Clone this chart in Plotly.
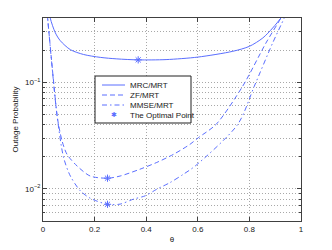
import plotly.graph_objects as go
import numpy as np

# ---------------- data ----------------
theta_mrc = [0.020, 0.028, 0.048, 0.067, 0.106, 0.157, 0.222, 0.286, 0.369, 0.477, 0.600, 0.736, 0.800, 0.852, 0.890, 0.922, 0.930]
p_mrc = [0.55, 0.40, 0.290, 0.245, 0.202, 0.182, 0.171, 0.1655, 0.162, 0.163, 0.172, 0.195, 0.217, 0.260, 0.322, 0.400, 0.43]

theta_zf = [0.012, 0.018, 0.054, 0.060, 0.074, 0.093, 0.132, 0.183, 0.250, 0.299, 0.376, 0.441, 0.506, 0.570, 0.602, 0.671, 0.774, 0.864, 0.922, 0.930]
p_zf = [0.60, 0.40, 0.0499, 0.0403, 0.0281, 0.0211, 0.0164, 0.0132, 0.0126, 0.0132, 0.0153, 0.0177, 0.0211, 0.0262, 0.0302, 0.0403, 0.0918, 0.233, 0.400, 0.44]

theta_mmse = [0.012, 0.018, 0.054, 0.080, 0.106, 0.145, 0.183, 0.250, 0.299, 0.351, 0.396, 0.441, 0.493, 0.544, 0.590, 0.755, 0.819, 0.890, 0.935, 0.942]
p_mmse = [0.60, 0.40, 0.0499, 0.0196, 0.0132, 0.00957, 0.00818, 0.00717, 0.00720, 0.00802, 0.00861, 0.00993, 0.01148, 0.01371, 0.0164, 0.0403, 0.0918, 0.233, 0.400, 0.44]

opt_theta = [0.369, 0.250, 0.250]
opt_p = [0.162, 0.0126, 0.00717]

series_names = ["MRC/MRT", "ZF/MRT", "MMSE/MRT", "The Optimal Point"]

x_ticks = [0, 0.2, 0.4, 0.6, 0.8, 1]
x_ticklabels = ["0", "0.2", "0.4", "0.6", "0.8", "1"]
y_major = [0.01, 0.1]
y_major_labels = ["10<sup>−2</sup>", "10<sup>−1</sup>"]
y_minor = [0.005, 0.006, 0.007, 0.008, 0.009, 0.02, 0.03, 0.04, 0.05, 0.06, 0.07, 0.08, 0.09, 0.2, 0.3, 0.4]

# ---------------- styling ----------------
W, H = 332, 250
ML, MR, MT, MB = 43, 31, 18, 29
blue = "rgb(90,110,255)"
ink = "#202020"
font = "Liberation Sans, Arial, Helvetica, sans-serif"
dash_zf = "5px,3px"
dash_mmse = "5px,3px,1.5px,3px"

fig = go.Figure()
fig.add_trace(go.Scatter(x=theta_mrc, y=p_mrc, mode="lines", name=series_names[0],
                         line=dict(color=blue, width=1, shape="spline", smoothing=0.8)))
fig.add_trace(go.Scatter(x=theta_zf, y=p_zf, mode="lines", name=series_names[1],
                         line=dict(color=blue, width=1, dash=dash_zf, shape="spline", smoothing=0.8)))
fig.add_trace(go.Scatter(x=theta_mmse, y=p_mmse, mode="lines", name=series_names[2],
                         line=dict(color=blue, width=1, dash=dash_mmse, shape="spline", smoothing=0.8)))
fig.add_trace(go.Scatter(x=opt_theta, y=opt_p, mode="markers", name=series_names[3],
                         marker=dict(symbol="asterisk-open", size=6, color=blue,
                                     line=dict(color=blue, width=1))))

axis_common = dict(showline=True, linecolor="#404040", linewidth=1, mirror="ticks",
                   ticks="inside", ticklen=4, tickcolor="#404040", automargin=False,
                   showgrid=True, gridcolor="#a8a8a8", griddash="1px,2px", gridwidth=1,
                   zeroline=False, tickfont=dict(size=8, color=ink, family=font))

fig.update_xaxes(range=[0, 1], tickvals=x_ticks, ticktext=x_ticklabels,
                 title=dict(text="θ", font=dict(size=8, family=font, color=ink), standoff=3),
                 **axis_common)
fig.update_yaxes(type="log", range=[np.log10(0.005), np.log10(0.4)],
                 tickvals=y_major, ticktext=y_major_labels,
                 minor=dict(tickvals=y_minor, ticks="inside", ticklen=2, tickcolor="#404040",
                            showgrid=True, gridcolor="#a8a8a8", griddash="1px,2px", gridwidth=1),
                 title=dict(text="Outage Probability", font=dict(size=8, family=font, color=ink), standoff=5),
                 **axis_common)

# ---------------- manual legend (compact, MATLAB-like) ----------------
pw, ph = W - ML - MR, H - MT - MB
px = lambda x: (x - ML) / pw
py = lambda y: (H - MB - y) / ph

shapes = [dict(type="rect", xref="paper", yref="paper",
               x0=px(95), x1=px(191), y0=py(123), y1=py(76),
               fillcolor="white", line=dict(color=ink, width=1), layer="above")]
annotations = []
rows = [85, 95, 105, 115]
dashes = ["solid", dash_zf, dash_mmse]
for i, name in enumerate(series_names):
    yy = py(rows[i])
    if i < 3:
        shapes.append(dict(type="line", xref="paper", yref="paper",
                           x0=px(102), x1=px(125), y0=yy, y1=yy,
                           line=dict(color=blue, width=1, dash=dashes[i]), layer="above"))
    else:
        annotations.append(dict(xref="paper", yref="paper", x=px(113.5), y=yy,
                                text="✱", showarrow=False, xanchor="center", yanchor="middle",
                                font=dict(size=7, color=blue, family="DejaVu Sans")))
    annotations.append(dict(xref="paper", yref="paper", x=px(128), y=yy, text=name,
                            showarrow=False, xanchor="left", yanchor="middle",
                            font=dict(size=8, color=ink, family=font)))

fig.update_layout(
    width=W, height=H,
    margin=dict(l=ML, r=MR, t=MT, b=MB),
    paper_bgcolor="white", plot_bgcolor="white",
    font=dict(family=font, size=8, color=ink),
    showlegend=False,
    shapes=shapes, annotations=annotations,
)

fig.write_html("out.html", config={"displayModeBar": False},
               post_script="document.body.style.margin='0';document.body.style.overflow='hidden';")
